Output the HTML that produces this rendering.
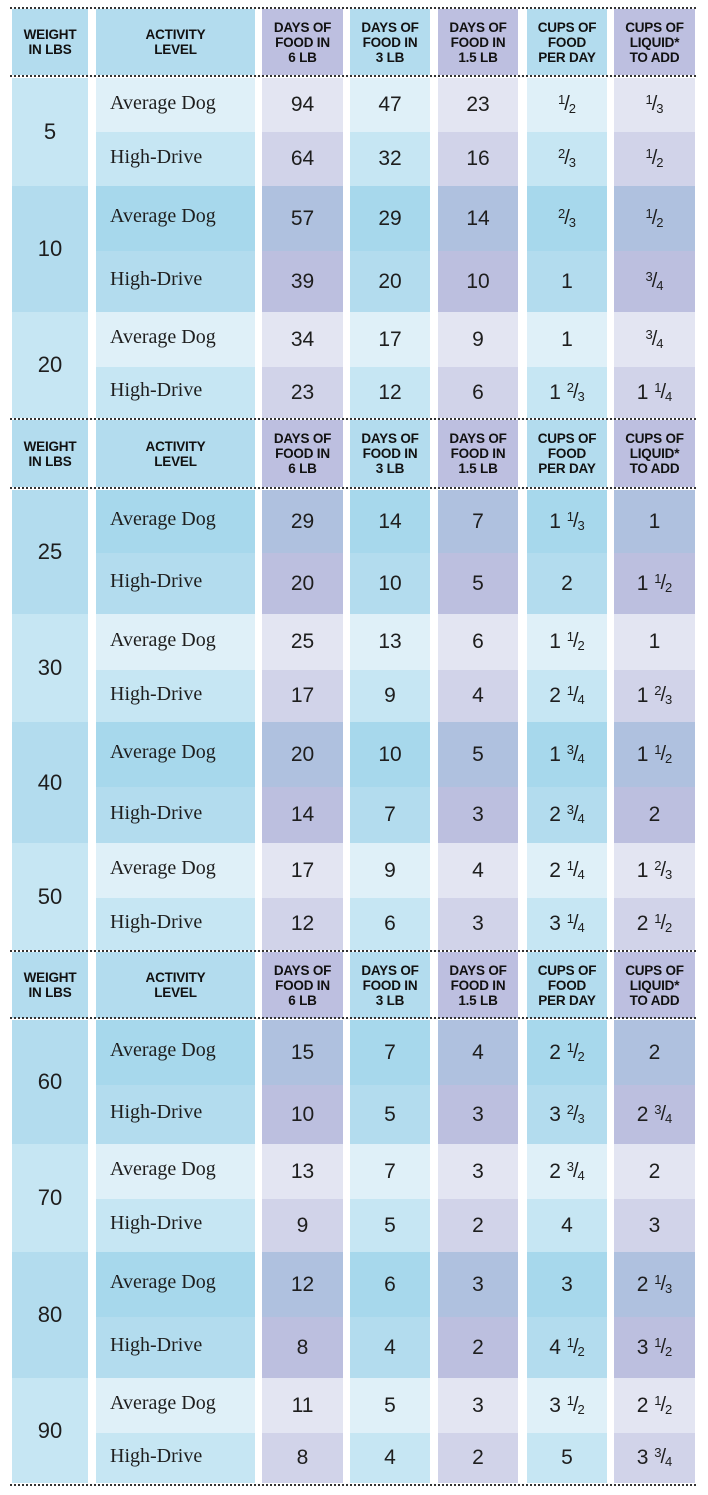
<!DOCTYPE html>
<html><head><meta charset="utf-8"><style>
*{margin:0;padding:0;box-sizing:border-box}
body{width:708px;height:1495px;background:#fff;position:relative;overflow:hidden;font-family:"Liberation Sans","DejaVu Sans",sans-serif;color:#1e1e1e}
.r{position:absolute;left:0;width:708px}
.c{position:absolute;top:0;height:100%;display:flex;align-items:center;justify-content:center;font-size:21px}
.c1{left:12px;width:76px}.c2{left:96px;width:159px;justify-content:flex-start;padding-left:14px;font-family:"Liberation Serif",serif;font-size:20px}
.c3{left:262px;width:81px}.c4{left:350px;width:80px}.c5{left:438px;width:80px}.c6{left:527px;width:80px}.c7{left:614px;width:81px}
.la .b{background:#dff0f8}.la .p{background:#e3e5f2}
.lh .b{background:#c6e6f3}.lh .p{background:#d1d3e9}
.da .b{background:#a7d8ec}.da .p{background:#afc1df}
.dh .b{background:#b3dcee}.dh .p{background:#bcbfdf}
.w{position:absolute;left:12px;width:76px;display:flex;align-items:center;justify-content:center;font-size:22px}
.wl{background:#c6e6f3}.wd{background:#b3dcee}
.h .b{background:#b3dcee}.h .p{background:#bdbfe0}
.h .c{font-size:13.5px;font-weight:bold;text-align:center;line-height:15px;font-family:"Liberation Sans",sans-serif;padding:0;color:#111;letter-spacing:-0.2px}
.h .c2{justify-content:center;padding-left:0}
.d{position:absolute;left:10px;width:686px;height:0;border-top:2px dotted #333}
.f{font-style:normal;font-size:14px;position:relative;top:-1px}
.f sup{font-size:13px;vertical-align:6px}.f sub{font-size:13px;vertical-align:-3px}
.f span{font-size:20px;margin:0 -1px}
.c2.t{padding-bottom:4px}
</style></head><body>

<div class="d" style="top:7px"></div>
<div class="r h" style="top:9px;height:66px">
<div class="c c1 b">WEIGHT<br>IN LBS</div><div class="c c2 b">ACTIVITY<br>LEVEL</div>
<div class="c c3 p">DAYS OF<br>FOOD IN<br>6 LB</div><div class="c c4 b">DAYS OF<br>FOOD IN<br>3 LB</div><div class="c c5 p">DAYS OF<br>FOOD IN<br>1.5 LB</div><div class="c c6 b">CUPS OF<br>FOOD<br>PER DAY</div><div class="c c7 p">CUPS OF<br>LIQUID*<br>TO ADD</div></div>
<div class="d" style="top:75px"></div>

<div class="r la" style="top:78px;height:54px"><div class="c c2 b t">Average Dog</div><div class="c c3 p">94</div><div class="c c4 b">47</div><div class="c c5 p">23</div><div class="c c6 b"><i class="f"><sup>1</sup><span>/</span><sub>2</sub></i></div><div class="c c7 p"><i class="f"><sup>1</sup><span>/</span><sub>3</sub></i></div></div>
<div class="r lh" style="top:132px;height:54px"><div class="c c2 b t">High-Drive</div><div class="c c3 p">64</div><div class="c c4 b">32</div><div class="c c5 p">16</div><div class="c c6 b"><i class="f"><sup>2</sup><span>/</span><sub>3</sub></i></div><div class="c c7 p"><i class="f"><sup>1</sup><span>/</span><sub>2</sub></i></div></div>
<div class="w wl" style="top:78px;height:108px">5</div>

<div class="r da" style="top:186px;height:65px"><div class="c c2 b t">Average Dog</div><div class="c c3 p">57</div><div class="c c4 b">29</div><div class="c c5 p">14</div><div class="c c6 b"><i class="f"><sup>2</sup><span>/</span><sub>3</sub></i></div><div class="c c7 p"><i class="f"><sup>1</sup><span>/</span><sub>2</sub></i></div></div>
<div class="r dh" style="top:251px;height:61px"><div class="c c2 b t">High-Drive</div><div class="c c3 p">39</div><div class="c c4 b">20</div><div class="c c5 p">10</div><div class="c c6 b">1</div><div class="c c7 p"><i class="f"><sup>3</sup><span>/</span><sub>4</sub></i></div></div>
<div class="w wd" style="top:186px;height:126px">10</div>

<div class="r la" style="top:312px;height:55px"><div class="c c2 b t">Average Dog</div><div class="c c3 p">34</div><div class="c c4 b">17</div><div class="c c5 p">9</div><div class="c c6 b">1</div><div class="c c7 p"><i class="f"><sup>3</sup><span>/</span><sub>4</sub></i></div></div>
<div class="r lh" style="top:367px;height:51px"><div class="c c2 b t">High-Drive</div><div class="c c3 p">23</div><div class="c c4 b">12</div><div class="c c5 p">6</div><div class="c c6 b">1&nbsp;<i class="f"><sup>2</sup><span>/</span><sub>3</sub></i></div><div class="c c7 p">1&nbsp;<i class="f"><sup>1</sup><span>/</span><sub>4</sub></i></div></div>
<div class="w wl" style="top:312px;height:106px">20</div>

<div class="d" style="top:418px"></div>
<div class="r h" style="top:420px;height:67px">
<div class="c c1 b">WEIGHT<br>IN LBS</div><div class="c c2 b">ACTIVITY<br>LEVEL</div>
<div class="c c3 p">DAYS OF<br>FOOD IN<br>6 LB</div><div class="c c4 b">DAYS OF<br>FOOD IN<br>3 LB</div><div class="c c5 p">DAYS OF<br>FOOD IN<br>1.5 LB</div><div class="c c6 b">CUPS OF<br>FOOD<br>PER DAY</div><div class="c c7 p">CUPS OF<br>LIQUID*<br>TO ADD</div></div>
<div class="d" style="top:487px"></div>

<div class="r da" style="top:490px;height:63px"><div class="c c2 b t">Average Dog</div><div class="c c3 p">29</div><div class="c c4 b">14</div><div class="c c5 p">7</div><div class="c c6 b">1&nbsp;<i class="f"><sup>1</sup><span>/</span><sub>3</sub></i></div><div class="c c7 p">1</div></div>
<div class="r dh" style="top:553px;height:61px"><div class="c c2 b t">High-Drive</div><div class="c c3 p">20</div><div class="c c4 b">10</div><div class="c c5 p">5</div><div class="c c6 b">2</div><div class="c c7 p">1&nbsp;<i class="f"><sup>1</sup><span>/</span><sub>2</sub></i></div></div>
<div class="w wd" style="top:490px;height:124px">25</div>

<div class="r la" style="top:614px;height:56px"><div class="c c2 b t">Average Dog</div><div class="c c3 p">25</div><div class="c c4 b">13</div><div class="c c5 p">6</div><div class="c c6 b">1&nbsp;<i class="f"><sup>1</sup><span>/</span><sub>2</sub></i></div><div class="c c7 p">1</div></div>
<div class="r lh" style="top:670px;height:52px"><div class="c c2 b t">High-Drive</div><div class="c c3 p">17</div><div class="c c4 b">9</div><div class="c c5 p">4</div><div class="c c6 b">2&nbsp;<i class="f"><sup>1</sup><span>/</span><sub>4</sub></i></div><div class="c c7 p">1&nbsp;<i class="f"><sup>2</sup><span>/</span><sub>3</sub></i></div></div>
<div class="w wl" style="top:614px;height:108px">30</div>

<div class="r da" style="top:722px;height:65px"><div class="c c2 b t">Average Dog</div><div class="c c3 p">20</div><div class="c c4 b">10</div><div class="c c5 p">5</div><div class="c c6 b">1&nbsp;<i class="f"><sup>3</sup><span>/</span><sub>4</sub></i></div><div class="c c7 p">1&nbsp;<i class="f"><sup>1</sup><span>/</span><sub>2</sub></i></div></div>
<div class="r dh" style="top:787px;height:56px"><div class="c c2 b t">High-Drive</div><div class="c c3 p">14</div><div class="c c4 b">7</div><div class="c c5 p">3</div><div class="c c6 b">2&nbsp;<i class="f"><sup>3</sup><span>/</span><sub>4</sub></i></div><div class="c c7 p">2</div></div>
<div class="w wd" style="top:722px;height:121px">40</div>

<div class="r la" style="top:843px;height:55px"><div class="c c2 b t">Average Dog</div><div class="c c3 p">17</div><div class="c c4 b">9</div><div class="c c5 p">4</div><div class="c c6 b">2&nbsp;<i class="f"><sup>1</sup><span>/</span><sub>4</sub></i></div><div class="c c7 p">1&nbsp;<i class="f"><sup>2</sup><span>/</span><sub>3</sub></i></div></div>
<div class="r lh" style="top:898px;height:52px"><div class="c c2 b t">High-Drive</div><div class="c c3 p">12</div><div class="c c4 b">6</div><div class="c c5 p">3</div><div class="c c6 b">3&nbsp;<i class="f"><sup>1</sup><span>/</span><sub>4</sub></i></div><div class="c c7 p">2&nbsp;<i class="f"><sup>1</sup><span>/</span><sub>2</sub></i></div></div>
<div class="w wl" style="top:843px;height:107px">50</div>

<div class="d" style="top:950px"></div>
<div class="r h" style="top:952px;height:66px">
<div class="c c1 b">WEIGHT<br>IN LBS</div><div class="c c2 b">ACTIVITY<br>LEVEL</div>
<div class="c c3 p">DAYS OF<br>FOOD IN<br>6 LB</div><div class="c c4 b">DAYS OF<br>FOOD IN<br>3 LB</div><div class="c c5 p">DAYS OF<br>FOOD IN<br>1.5 LB</div><div class="c c6 b">CUPS OF<br>FOOD<br>PER DAY</div><div class="c c7 p">CUPS OF<br>LIQUID*<br>TO ADD</div></div>
<div class="d" style="top:1017px"></div>

<div class="r da" style="top:1020px;height:65px"><div class="c c2 b t">Average Dog</div><div class="c c3 p">15</div><div class="c c4 b">7</div><div class="c c5 p">4</div><div class="c c6 b">2&nbsp;<i class="f"><sup>1</sup><span>/</span><sub>2</sub></i></div><div class="c c7 p">2</div></div>
<div class="r dh" style="top:1085px;height:59px"><div class="c c2 b t">High-Drive</div><div class="c c3 p">10</div><div class="c c4 b">5</div><div class="c c5 p">3</div><div class="c c6 b">3&nbsp;<i class="f"><sup>2</sup><span>/</span><sub>3</sub></i></div><div class="c c7 p">2&nbsp;<i class="f"><sup>3</sup><span>/</span><sub>4</sub></i></div></div>
<div class="w wd" style="top:1020px;height:124px">60</div>

<div class="r la" style="top:1144px;height:55px"><div class="c c2 b t">Average Dog</div><div class="c c3 p">13</div><div class="c c4 b">7</div><div class="c c5 p">3</div><div class="c c6 b">2&nbsp;<i class="f"><sup>3</sup><span>/</span><sub>4</sub></i></div><div class="c c7 p">2</div></div>
<div class="r lh" style="top:1199px;height:53px"><div class="c c2 b t">High-Drive</div><div class="c c3 p">9</div><div class="c c4 b">5</div><div class="c c5 p">2</div><div class="c c6 b">4</div><div class="c c7 p">3</div></div>
<div class="w wl" style="top:1144px;height:108px">70</div>

<div class="r da" style="top:1252px;height:65px"><div class="c c2 b t">Average Dog</div><div class="c c3 p">12</div><div class="c c4 b">6</div><div class="c c5 p">3</div><div class="c c6 b">3</div><div class="c c7 p">2&nbsp;<i class="f"><sup>1</sup><span>/</span><sub>3</sub></i></div></div>
<div class="r dh" style="top:1317px;height:61px"><div class="c c2 b t">High-Drive</div><div class="c c3 p">8</div><div class="c c4 b">4</div><div class="c c5 p">2</div><div class="c c6 b">4&nbsp;<i class="f"><sup>1</sup><span>/</span><sub>2</sub></i></div><div class="c c7 p">3&nbsp;<i class="f"><sup>1</sup><span>/</span><sub>2</sub></i></div></div>
<div class="w wd" style="top:1252px;height:126px">80</div>

<div class="r la" style="top:1378px;height:55px"><div class="c c2 b t">Average Dog</div><div class="c c3 p">11</div><div class="c c4 b">5</div><div class="c c5 p">3</div><div class="c c6 b">3&nbsp;<i class="f"><sup>1</sup><span>/</span><sub>2</sub></i></div><div class="c c7 p">2&nbsp;<i class="f"><sup>1</sup><span>/</span><sub>2</sub></i></div></div>
<div class="r lh" style="top:1433px;height:50px"><div class="c c2 b t">High-Drive</div><div class="c c3 p">8</div><div class="c c4 b">4</div><div class="c c5 p">2</div><div class="c c6 b">5</div><div class="c c7 p">3&nbsp;<i class="f"><sup>3</sup><span>/</span><sub>4</sub></i></div></div>
<div class="w wl" style="top:1378px;height:105px">90</div>
<div class="d" style="top:1484px"></div>
</body></html>
